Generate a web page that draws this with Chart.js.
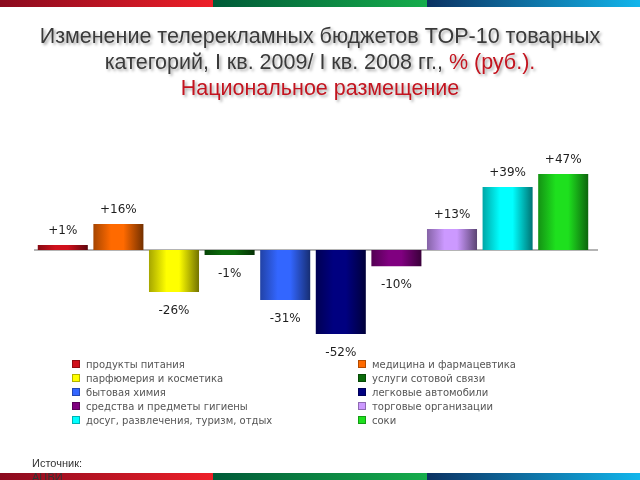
<!DOCTYPE html>
<html lang="ru">
<head>
    <meta charset="UTF-8">
    <title>Изменение телерекламных бюджетов</title>
    <style>
        body {
            margin: 0;
            width: 640px;
            height: 480px;
            overflow: hidden;
            background: #fff;
            position: relative;
            font-family: "Liberation Sans", Arial, sans-serif;
        }
        .band {
            position: absolute;
            left: 0;
            width: 640px;
            height: 7px;
            display: flex;
            z-index: 3;
        }
        .band div { flex: 1; }
        .band .r { background: linear-gradient(to right, #8a0a1e, #ee1f28); }
        .band .g { background: linear-gradient(to right, #005a38, #16ad4c); }
        .band .b { background: linear-gradient(to right, #0b3262, #12b6ec); }
        #chart {
            position: absolute;
            left: 0;
            top: 0;
        }
        .title {
            position: absolute;
            left: 0;
            width: 640px;
            top: 23px;
            text-align: center;
            font-size: 21.5px;
            line-height: 26px;
            color: #3a3a3a;
            text-shadow: 2px 2px 3px rgba(0, 0, 0, 0.35);
            z-index: 2;
        }
        .title .red { color: #c3141f; }
        .legend {
            position: absolute;
            left: 72px;
            top: 357px;
            display: grid;
            grid-template-columns: 286px 220px;
            grid-auto-rows: 14px;
            font-family: "DejaVu Sans", sans-serif;
            font-size: 10px;
            color: #555;
            z-index: 2;
        }
        .legend span.item {
            display: flex;
            align-items: center;
            white-space: nowrap;
        }
        .legend i {
            display: inline-block;
            width: 6px;
            height: 6px;
            margin-right: 6px;
            border: 0.5px solid rgba(0,0,0,0.3);
        }
        .source {
            position: absolute;
            left: 32px;
            top: 456px;
            font-size: 11px;
            line-height: 14px;
            color: #333;
            z-index: 4;
        }
    </style>
</head>
<body>
    <div class="band" style="top:0"><div class="r"></div><div class="g"></div><div class="b"></div></div>
    <div class="title">
        Изменение телерекламных бюджетов TOP-10 товарных<br>
        категорий, I кв. 2009/ I кв. 2008 гг., <span class="red">% (руб.).</span><br>
        <span class="red">Национальное размещение</span>
    </div>
    <canvas id="chart" width="640" height="480"></canvas>
    <div class="legend" id="legend"></div>
    <div class="source">Источник:<br>АЦВИ</div>
    <div class="band" style="top:473px"><div class="r"></div><div class="g"></div><div class="b"></div></div>

<script src="https://cdn.jsdelivr.net/npm/chart.js"></script>
<script>
    // categories (товарные категории), in bar order
    const categories = [
        'продукты питания',
        'медицина и фармацевтика',
        'парфюмерия и косметика',
        'услуги сотовой связи',
        'бытовая химия',
        'легковые автомобили',
        'средства и предметы гигиены',
        'торговые организации',
        'досуг, развлечения, туризм, отдых',
        'соки'
    ];

    // change, %
    const values = [1, 16, -26, -1, -31, -52, -10, 13, 39, 47];

    const colors = [
        '#d0101c', '#ff6a00', '#ffff00', '#0a6a0a', '#3366ff',
        '#000080', '#800080', '#cc99ff', '#00ffff', '#1ee01e'
    ];

    // darken a hex colour by factor k
    function shade(hex, k) {
        const n = parseInt(hex.slice(1), 16);
        const r = Math.round(((n >> 16) & 255) * k);
        const g = Math.round(((n >> 8) & 255) * k);
        const b = Math.round((n & 255) * k);
        return `rgb(${r},${g},${b})`;
    }

    // legend, two columns, row by row
    const legendEl = document.getElementById('legend');
    categories.forEach((name, i) => {
        const item = document.createElement('span');
        item.className = 'item';
        item.innerHTML = `<i style="background:${colors[i]}"></i>${name}`;
        legendEl.appendChild(item);
    });

    // zero line under the bars
    const zeroLine = {
        id: 'zeroLine',
        beforeDatasetsDraw(chart) {
            const ctx = chart.ctx;
            const zero = chart.scales.y.getPixelForValue(0);
            ctx.save();
            ctx.strokeStyle = '#b4b4b4';
            ctx.lineWidth = 2;
            ctx.beginPath();
            ctx.moveTo(34, zero);
            ctx.lineTo(598, zero);
            ctx.stroke();
            ctx.restore();
        }
    };

    // bar labels +n% / -n%
    const valueLabels = {
        id: 'valueLabels',
        afterDatasetsDraw(chart) {
            const ctx = chart.ctx;
            ctx.save();
            ctx.font = '12px "DejaVu Sans", sans-serif';
            ctx.fillStyle = '#1e1e1e';
            ctx.textAlign = 'center';
            ctx.textBaseline = 'middle';
            chart.getDatasetMeta(0).data.forEach((bar, i) => {
                const v = values[i];
                const text = (v > 0 ? '+' : '') + v + '%';
                ctx.fillText(text, bar.x, v >= 0 ? bar.y - 14 : bar.y + 19);
            });
            ctx.restore();
        }
    };

    const ctx = document.getElementById('chart').getContext('2d');
    const chart = new Chart(ctx, {
        type: 'bar',
        data: {
            labels: categories,
            datasets: [{
                data: values,
                backgroundColor: (c) => {
                    const chart = c.chart;
                    const xs = chart.scales.x;
                    if (!xs || !chart.chartArea) return colors[c.dataIndex];
                    const cx = xs.getPixelForValue(c.dataIndex);
                    const half = (xs.width / categories.length) * 0.9 / 2;
                    const g = chart.ctx.createLinearGradient(cx - half, 0, cx + half, 0);
                    const base = colors[c.dataIndex];
                    g.addColorStop(0, shade(base, 0.65));
                    g.addColorStop(0.35, base);
                    g.addColorStop(0.6, base);
                    g.addColorStop(1, shade(base, 0.45));
                    return g;
                },
                borderWidth: 0,
                minBarLength: 5,
                barPercentage: 0.9,
                categoryPercentage: 1.0
            }]
        },
        options: {
            responsive: false,
            animation: false,
            layout: {
                padding: { left: 35, right: 49, top: 161, bottom: 133 }
            },
            scales: {
                x: { display: false },
                y: { display: false, min: -60, max: 55 }
            },
            plugins: {
                legend: { display: false },
                tooltip: { enabled: false }
            }
        },
        plugins: [zeroLine, valueLabels]
    });
</script>
</body>
</html>
